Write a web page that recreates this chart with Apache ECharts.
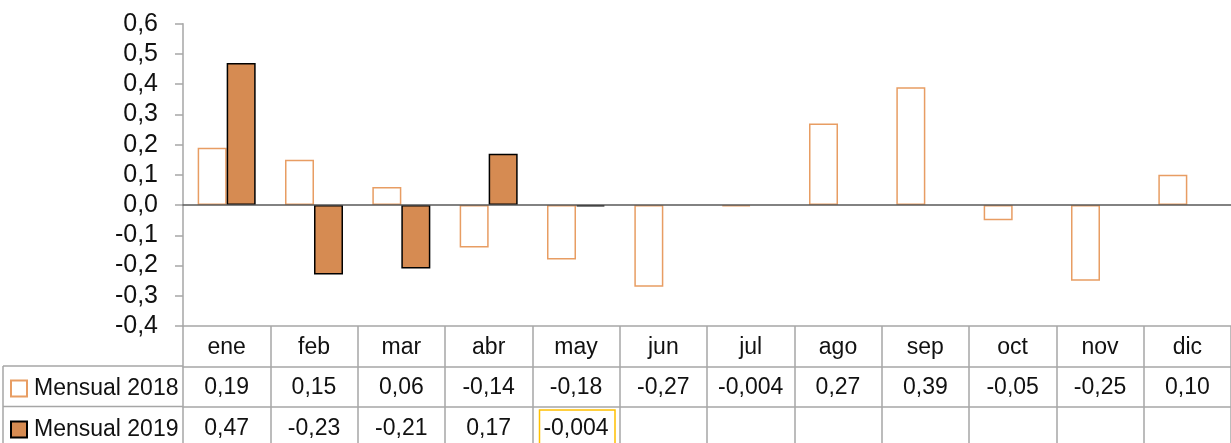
<!DOCTYPE html>
<html>
<head>
<meta charset="utf-8">
<script src="https://cdn.jsdelivr.net/npm/echarts@6/dist/echarts.min.js"></script>
<style>
    html, body { margin: 0; padding: 0; background: #fff; }
    #main-chart { width: 1231px; height: 443px; }
</style>
</head>
<body>
<div id="main-chart"></div>
<script>
const months = ['ene', 'feb', 'mar', 'abr', 'may', 'jun', 'jul', 'ago', 'sep', 'oct', 'nov', 'dic'];
const mensual2018 = [0.19, 0.15, 0.06, -0.14, -0.18, -0.27, -0.004, 0.27, 0.39, -0.05, -0.25, 0.10];
const mensual2019 = [0.47, -0.23, -0.21, 0.17, -0.004, null, null, null, null, null, null, null];
const seriesNames = ['Mensual 2018', 'Mensual 2019'];

const fontFamily = '"Liberation Sans", Arial, sans-serif';
const fontSize = 23;
const gridColor = '#A6A6A6';
const textColor = '#111';

// 0.10 -> "0,10", -0.004 -> "-0,004"
function fmtValue(v) {
    if (v === null || v === undefined) return '';
    const digits = Math.abs(v) < 0.01 ? 3 : 2;
    return v.toFixed(digits).replace('.', ',');
}

function fmtAxis(v) {
    if (Math.abs(v) < 1e-9) return '0,0';
    return v.toFixed(1).replace('.', ',');
}

// one row of the data table is a category axis pushed below the grid
function tableRow(offset, formatter) {
    return {
        type: 'category',
        data: months,
        position: 'bottom',
        offset: offset,
        axisLine: {onZero: false, lineStyle: {color: gridColor, width: 1.5}},
        axisTick: {show: true, interval: 0, length: 40.5, lineStyle: {color: gridColor, width: 1.5}},
        axisLabel: {
            interval: 0,
            margin: 10,
            fontSize,
            fontFamily,
            color: textColor,
            formatter: formatter
        }
    };
}

const mainChart = echarts.init(document.getElementById('main-chart'));

mainChart.setOption({
    animation: false,
    backgroundColor: '#fff',
    grid: {left: 183, top: 23.7, width: 1061, height: 302.3},
    legend: [
        {
            data: [seriesNames[0]], left: 10, top: 377, padding: 0,
            icon: 'rect', itemWidth: 16, itemHeight: 16, itemGap: 7,
            textStyle: {fontSize, fontFamily, color: textColor, padding: [0, 0, 0, 2]}
        },
        {
            data: [seriesNames[1]], left: 10, top: 418, padding: 0,
            icon: 'rect', itemWidth: 16, itemHeight: 16, itemGap: 7,
            textStyle: {fontSize, fontFamily, color: textColor, padding: [0, 0, 0, 2]}
        }
    ],
    xAxis: [
        {
            type: 'category',
            data: months,
            z: 5,
            axisLine: {onZero: true, lineStyle: {color: '#595959', width: 1.5}},
            axisTick: {show: false},
            axisLabel: {show: false}
        },
        tableRow(0, (value) => value),
        tableRow(40.5, (value, index) => fmtValue(mensual2018[index])),
        tableRow(81, (value, index) => fmtValue(mensual2019[index]))
    ],
    yAxis: {
        type: 'value',
        min: -0.4,
        max: 0.6,
        interval: 0.1,
        axisLine: {show: true, lineStyle: {color: gridColor, width: 1.5}},
        axisTick: {show: true, length: 8, lineStyle: {color: gridColor, width: 1.5}},
        splitLine: {show: false},
        axisLabel: {
            margin: 25,
            fontSize: 25,
            fontFamily,
            color: textColor,
            formatter: fmtAxis
        }
    },
    series: [
        {
            name: seriesNames[0],
            type: 'bar',
            data: mensual2018,
            barWidth: 29,
            barGap: '0%',
            itemStyle: {color: '#fff', borderColor: '#E89D63', borderWidth: 1.5}
        },
        {
            name: seriesNames[1],
            type: 'bar',
            data: mensual2019,
            barWidth: 29,
            itemStyle: {color: '#D68B52', borderColor: '#000', borderWidth: 1.5}
        }
    ],
    graphic: [
        // left column of the data table (legend cells)
        {type: 'line', shape: {x1: 3, y1: 366, x2: 183, y2: 366}, style: {stroke: gridColor, lineWidth: 1.5}},
        {type: 'line', shape: {x1: 3, y1: 406.5, x2: 183, y2: 406.5}, style: {stroke: gridColor, lineWidth: 1.5}},
        {type: 'line', shape: {x1: 3, y1: 366, x2: 3, y2: 443}, style: {stroke: gridColor, lineWidth: 1.5}},
        // highlighted cell (may 2019)
        {type: 'rect', shape: {x: 539.5, y: 410, width: 75.5, height: 40}, style: {fill: null, stroke: '#FFC000', lineWidth: 1.5}}
    ]
});
</script>
</body>
</html>
